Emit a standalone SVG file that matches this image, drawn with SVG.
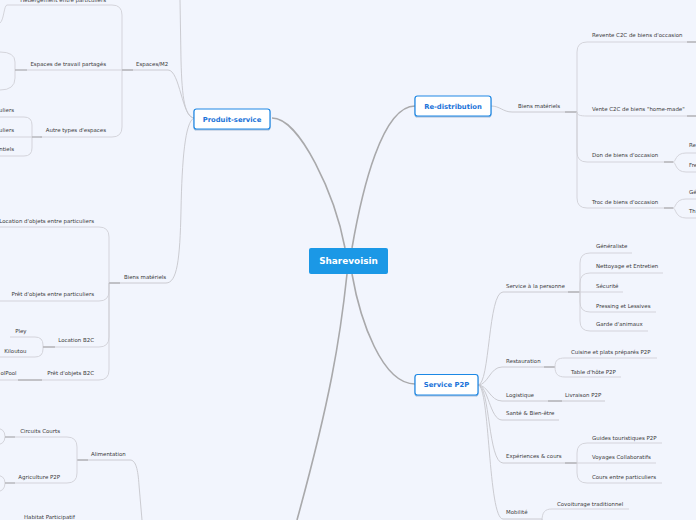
<svg xmlns="http://www.w3.org/2000/svg" width="696" height="520" viewBox="0 0 696 520">
<style>
.bg{fill:#f2f5fd}
.t{font-family:"DejaVu Sans","Liberation Sans",sans-serif;font-size:5.45px;fill:#3a3a3a}
.e{text-anchor:end}
.l1{font-family:"DejaVu Sans","Liberation Sans",sans-serif;font-size:6.8px;font-weight:bold;fill:#1a73d9;text-anchor:middle}
.box{fill:#ffffff;stroke:#1e88e5;stroke-width:1.2}
.root{fill:#1b98e6}
.rt{font-family:"DejaVu Sans","Liberation Sans",sans-serif;font-size:8.9px;font-weight:bold;fill:#ffffff;text-anchor:middle}
.m{fill:none;stroke:#a9a9ab;stroke-width:1.6}
.c{fill:none;stroke:#c6c6cc;stroke-width:0.9}
.u{fill:none;stroke:#d0d0d7;stroke-width:0.9}
.j{fill:none;stroke:#b3b3b8;stroke-width:1.4}
</style>
<defs>
<filter id="sh" x="-20%" y="-30%" width="140%" height="170%">
<feDropShadow dx="0" dy="1" stdDeviation="0.6" flood-color="#1e4f8a" flood-opacity="0.35"/>
</filter>
</defs>
<rect class="bg" x="0" y="0" width="696" height="520"/>

<g id="connectors">
<path class="m" d="M345,248 C335,195 300,118 272,118"/>
<path class="m" d="M352,248 C362,190 382,106 415,106"/>
<path class="m" d="M352,274 C360,320 382,384 415,384"/>
<path class="m" d="M347,274 C340,340 330,400 297,520"/>
<path class="c" d="M194,118 C185,116 182,100 181,60 L180,0"/>
<path class="c" d="M194,118 C182,118 180,70 168,70 H122"/>
<path class="c" d="M194,118 C185,122 182,160 181,210 C180,260 177,283 166,283 H110"/>
<path class="u" d="M7,5 H112 Q122,5 122,15 V127 Q122,137 112,137 H40"/>
<path class="u" d="M122,70 H27"/>
<path class="j" d="M122,70 H133"/>
<path class="u" d="M7,5 C4,5 4,20 0,23"/>
<path class="u" d="M0,52 Q15,52 15,62 V78 Q15,90 0,90"/>
<path class="j" d="M15,70 H27"/>
<path class="u" d="M32,137 V125 Q32,117 24,117 H0"/>
<path class="u" d="M32,137 H0"/>
<path class="u" d="M32,137 V148 Q32,156 24,156 H0"/>
<path class="j" d="M32,137 H42"/>
<path class="u" d="M109,283 V237 Q109,227 99,227 H0"/>
<path class="u" d="M109,283 V291 Q109,301 99,301 H0"/>
<path class="u" d="M109,283 V337 Q109,347 99,347 H43"/>
<path class="u" d="M109,283 V370 Q109,380 99,380 H0"/>
<path class="j" d="M109,283 H120"/>
<path class="u" d="M43,347 V345 Q43,337 35,337 H10"/>
<path class="u" d="M43,347 V349 Q43,357 35,357 H0"/>
<path class="j" d="M43,347 H55"/>
<path class="j" d="M18,380 H42"/>
<path class="c" d="M77,460 H130 C136,460 138,470 139,485 L142,520"/>
<path class="j" d="M77,460 H88"/>
<path class="u" d="M77,460 V447 Q77,437 67,437 H15"/>
<path class="u" d="M77,460 V473 Q77,483 67,483 H15"/>
<path class="u" d="M-5,428 Q5,428 5,436.5 Q5,445 -5,445"/>
<path class="j" d="M5,437 H15"/>
<path class="u" d="M-5,475 Q5,475 5,483 Q5,492 -5,492"/>
<path class="j" d="M5,483 H15"/>
<path class="c" d="M491,106 C500,106 503,112 512,112 H577"/>
<path class="j" d="M565,112 H577"/>
<path class="u" d="M577,112 V52 Q577,42 587,42 H696"/>
<path class="u" d="M577,112 C577,115 580,116 587,116 H696"/>
<path class="u" d="M577,112 V152 Q577,162 587,162 H673"/>
<path class="u" d="M577,112 V198 Q577,208 587,208 H673"/>
<path class="j" d="M687,42 H696"/>
<path class="j" d="M687,116 H696"/>
<path class="u" d="M673,162 C676,162 675,153 686,153 H696"/>
<path class="u" d="M673,162 C676,162 675,172 686,172 H696"/>
<path class="j" d="M664,162 H673"/>
<path class="u" d="M673,208 C676,208 675,199 686,199 H696"/>
<path class="u" d="M673,208 C676,208 675,218 686,218 H696"/>
<path class="j" d="M664,208 H673"/>
<path class="c" d="M478,385 C490,385 488,292 503,292 H580"/>
<path class="c" d="M478,385 C488,385 490,367 502,367 H555"/>
<path class="c" d="M478,385 C488,385 490,401 502,401 H605"/>
<path class="c" d="M478,385 C488,385 490,420 502,420 H559"/>
<path class="c" d="M478,385 C490,385 488,463 503,463 H577"/>
<path class="c" d="M478,385 C490,385 488,519 503,519 H542"/>
<path class="j" d="M568,292 H580"/>
<path class="u" d="M580,292 V263 Q580,253 590,253 H632"/>
<path class="u" d="M580,292 V283 Q580,273 590,273 H663"/>
<path class="u" d="M580,292 H623"/>
<path class="u" d="M580,292 V302 Q580,312 590,312 H656"/>
<path class="u" d="M580,292 V321 Q580,331 590,331 H648"/>
<path class="j" d="M544,367 H555"/>
<path class="u" d="M555,367 C555,360 558,358 565,358 H657"/>
<path class="u" d="M555,367 C555,374 558,377 565,377 H621"/>
<path class="j" d="M548,401 H562"/>
<path class="j" d="M565,463 H577"/>
<path class="u" d="M577,463 V453 Q577,443 587,443 H662"/>
<path class="u" d="M577,463 H656"/>
<path class="u" d="M577,463 V473 Q577,483 587,483 H662"/>
<path class="u" d="M542,521 C542,512 545,509 552,509 H629"/>
<path class="u" d="M542,519 V525"/>
</g>

<g id="root">
<rect class="root" x="309" y="248" width="79" height="26" rx="2"/>
<text class="rt" x="348.5" y="264.3">Sharevoisin</text>
</g>

<g id="produit-service">
<rect class="box" x="194" y="109" width="76" height="20" rx="2.5" filter="url(#sh)"/>
<text class="l1" x="232" y="121.5">Produit-service</text>
</g>
<g id="re-distribution">
<rect class="box" x="415" y="96" width="76" height="20" rx="2.5" filter="url(#sh)"/>
<text class="l1" x="453" y="108.5">Re-distribution</text>
</g>
<g id="service-p2p">
<rect class="box" x="415" y="374.5" width="63" height="20.5" rx="2.5" filter="url(#sh)"/>
<text class="l1" x="446.5" y="387.3">Service P2P</text>
</g>

<g id="espaces-m2"><text class="t" x="136" y="65.5">Espaces/M2</text></g>
<g id="hebergement"><text class="t e" x="106" y="1.5">Hébergement entre particuliers</text></g>
<g id="espaces-travail"><text class="t e" x="106" y="65.5">Espaces de travail partagés</text></g>
<g id="autre-types"><text class="t e" x="106" y="131.5">Autre types d'espaces</text></g>
<g id="autre-c1"><text class="t e" x="14" y="111.5">uliers</text></g>
<g id="autre-c2"><text class="t e" x="14" y="131.5">uliers</text></g>
<g id="autre-c3"><text class="t e" x="14" y="151">ntiels</text></g>

<g id="biens-materiels-l"><text class="t" x="124" y="279">Biens matériels</text></g>
<g id="location-particuliers"><text class="t e" x="94" y="222.5">Location d'objets entre particuliers</text></g>
<g id="pret-particuliers"><text class="t e" x="94" y="296">Prêt d'objets entre particuliers</text></g>
<g id="location-b2c"><text class="t e" x="94" y="342">Location B2C</text></g>
<g id="pret-b2c"><text class="t e" x="94" y="375">Prêt d'objets B2C</text></g>
<g id="pley"><text class="t e" x="26.5" y="332.5">Pley</text></g>
<g id="kiloutou"><text class="t e" x="26.5" y="352.5">Kiloutou</text></g>
<g id="olpool"><text class="t" x="0.5" y="375">olPool</text></g>

<g id="alimentation"><text class="t" x="91" y="455.5">Alimentation</text></g>
<g id="circuits-courts"><text class="t e" x="60" y="432.5">Circuits Courts</text></g>
<g id="agriculture-p2p"><text class="t e" x="60" y="478.5">Agriculture P2P</text></g>
<g id="habitat"><text class="t" x="24" y="518.5">Habitat Participatif</text></g>

<g id="biens-materiels-r"><text class="t" x="518" y="107.5">Biens matériels</text></g>
<g id="revente"><text class="t" x="592" y="37">Revente C2C de biens d'occasion</text></g>
<g id="vente-home"><text class="t" x="592" y="110.5">Vente C2C de biens "home-made"</text></g>
<g id="don"><text class="t" x="592" y="157">Don de biens d'occasion</text></g>
<g id="troc"><text class="t" x="592" y="204">Troc de biens d'occasion</text></g>
<g id="don-c1"><text class="t" x="689" y="147">Re</text></g>
<g id="don-c2"><text class="t" x="689" y="166.5">Fre</text></g>
<g id="troc-c1"><text class="t" x="689" y="193.5">Gé</text></g>
<g id="troc-c2"><text class="t" x="689" y="213">Th</text></g>

<g id="service-personne"><text class="t" x="506" y="287.5">Service à la personne</text></g>
<g id="generaliste"><text class="t" x="596" y="248">Généraliste</text></g>
<g id="nettoyage"><text class="t" x="596" y="268">Nettoyage et Entretien</text></g>
<g id="securite"><text class="t" x="596" y="287.5">Sécurité</text></g>
<g id="pressing"><text class="t" x="596" y="307.5">Pressing et Lessives</text></g>
<g id="garde"><text class="t" x="596" y="326">Garde d'animaux</text></g>
<g id="restauration"><text class="t" x="506" y="363">Restauration</text></g>
<g id="cuisine"><text class="t" x="571" y="353.5">Cuisine et plats préparés P2P</text></g>
<g id="table-hote"><text class="t" x="571" y="373.5">Table d'hôte P2P</text></g>
<g id="logistique"><text class="t" x="506" y="396.5">Logistique</text></g>
<g id="livraison"><text class="t" x="565" y="396.5">Livraison P2P</text></g>
<g id="sante"><text class="t" x="506" y="415">Santé &amp; Bien-être</text></g>
<g id="experiences"><text class="t" x="506" y="458">Expériences &amp; cours</text></g>
<g id="guides"><text class="t" x="592" y="439.5">Guides touristiques P2P</text></g>
<g id="voyages"><text class="t" x="592" y="458.5">Voyages Collaboratifs</text></g>
<g id="cours"><text class="t" x="592" y="478.5">Cours entre particuliers</text></g>
<g id="mobilite"><text class="t" x="506" y="514">Mobilité</text></g>
<g id="covoiturage"><text class="t" x="557" y="505.5">Covoiturage traditionnel</text></g>
</svg>
